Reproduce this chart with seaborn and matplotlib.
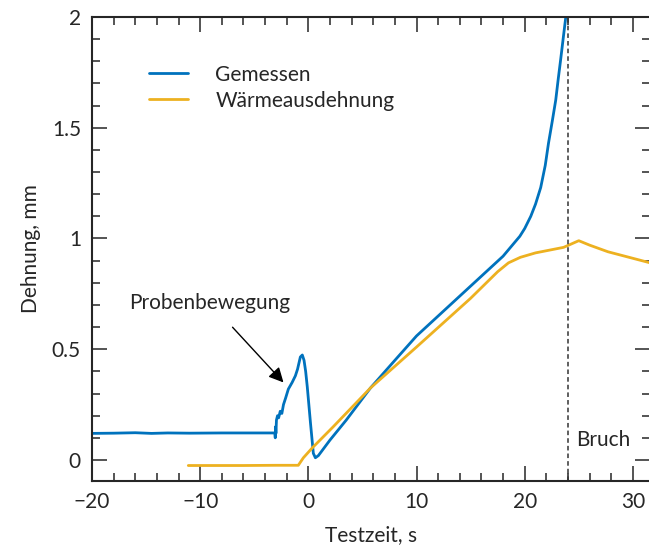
import numpy as np
import pandas as pd
import matplotlib
matplotlib.use("Agg")
import matplotlib.pyplot as plt
import seaborn as sns
from matplotlib.ticker import MultipleLocator, FuncFormatter

# --- data ---
gem_t = [-20, -18, -16, -14.5, -13, -11, -8, -5, -3.1, -3.06, -3.03, -3.0, -2.95, -2.85,
         -2.75, -2.6, -2.45, -2.3, -2.1, -1.85, -1.5, -1.2, -1.0, -0.74, -0.56, -0.4,
         -0.25, -0.1, 0.19, 0.46, 0.65, 0.93, 2.0, 3.5, 5.74, 8.0, 10.0, 12.0, 14.0,
         16.0, 18.0, 19.55, 20.0, 20.56, 21.0, 21.48, 21.9, 22.2, 22.55, 22.87, 23.1,
         23.33, 23.6, 23.8, 23.9]
gem_y = [0.12, 0.121, 0.123, 0.12, 0.122, 0.121, 0.122, 0.122, 0.122, 0.10, 0.15, 0.12,
         0.18, 0.20, 0.19, 0.22, 0.21, 0.25, 0.28, 0.32, 0.35, 0.38, 0.41, 0.465, 0.474,
         0.45, 0.40, 0.33, 0.17, 0.03, 0.01, 0.02, 0.09, 0.18, 0.325, 0.45, 0.56, 0.65,
         0.74, 0.83, 0.92, 1.01, 1.045, 1.10, 1.155, 1.23, 1.33, 1.43, 1.53, 1.625, 1.72,
         1.81, 1.92, 2.0, 2.05]

wae_t = [-11.1, -6, -3, -0.93, -0.46, 0.37, 2.3, 5.74, 10.0, 15.0, 17.5, 18.5, 19.6,
         21.0, 23.6, 25.0, 26.0, 27.7, 31.6]
wae_y = [-0.025, -0.025, -0.024, -0.024, 0.01, 0.055, 0.15, 0.325, 0.51, 0.73, 0.85,
         0.89, 0.915, 0.935, 0.96, 0.99, 0.97, 0.94, 0.89]

bruch_t = 24.0

df = pd.concat([
    pd.DataFrame({"t": gem_t, "y": gem_y, "serie": "Gemessen"}),
    pd.DataFrame({"t": wae_t, "y": wae_y, "serie": "Wärmeausdehnung"}),
])

sns.set_style("ticks")
plt.rcParams["font.family"] = ["Lato", "DejaVu Sans"]
plt.rcParams["axes.unicode_minus"] = True

fig = plt.figure(figsize=(6.49, 5.52), dpi=100)
ax = fig.add_axes([0.1418, 0.1286, 0.8600, 0.8406])

sns.lineplot(data=df, x="t", y="y", hue="serie", sort=False, estimator=None,
             palette={"Gemessen": "#0072BD", "Wärmeausdehnung": "#EDB120"},
             linewidth=2.0, ax=ax)

ax.axvline(bruch_t, color="#333333", linestyle=(0, (3, 2)), linewidth=1.1)
ax.text(27.3, 0.09, "Bruch", fontsize=15, ha="center", va="center")

ax.annotate("Probenbewegung", xy=(-2.3, 0.35), xytext=(-9.1, 0.71),
            fontsize=15, ha="center", va="center",
            arrowprops=dict(arrowstyle="-|>", color="black", lw=1.0,
                            mutation_scale=22, shrinkA=11, shrinkB=0))

ax.set_xlim(-20, 31.6)
ax.set_ylim(-0.095, 2)
ax.xaxis.set_major_locator(MultipleLocator(10))
ax.xaxis.set_minor_locator(MultipleLocator(2))
ax.yaxis.set_major_locator(MultipleLocator(0.5))
ax.yaxis.set_minor_locator(MultipleLocator(0.1))
ax.yaxis.set_major_formatter(FuncFormatter(lambda v, p: f"{v:g}"))
ax.xaxis.set_major_formatter(FuncFormatter(lambda v, p: f"{v:g}".replace("-", "\u2212")))

for s in ax.spines.values():
    s.set_visible(True)
    s.set_linewidth(1.5)
ax.tick_params(which="both", direction="in", top=True, right=True, width=1.1,
               labelsize=15, pad=8)
ax.tick_params(which="major", length=11)
ax.tick_params(which="minor", length=6)

ax.set_xlabel("Testzeit, s", fontsize=15, labelpad=9)
ax.set_ylabel("Dehnung, mm", fontsize=15, labelpad=8)

leg = ax.legend(loc="upper left", bbox_to_anchor=(0.068, 0.938), frameon=False,
                fontsize=15, handlelength=1.9, handletextpad=1.3, labelspacing=0.3)
leg.set_title(None)

fig.savefig("out.png", dpi=100)
